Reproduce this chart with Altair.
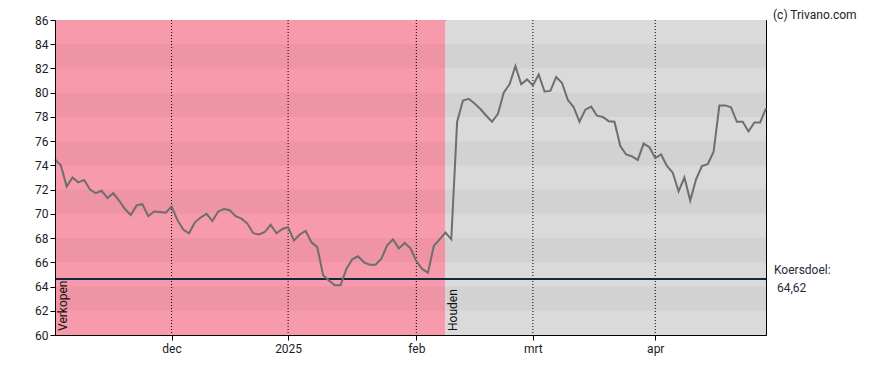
import altair as alt
import pandas as pd

# Closing prices per trading day (index 0 = first day shown)
prices = [
    74.5, 74.0, 72.25, 73.0, 72.6, 72.8, 72.0, 71.7, 71.9, 71.3,
    71.7, 71.1, 70.4, 69.9, 70.7, 70.8, 69.8, 70.2, 70.15, 70.1,
    70.6, 69.5, 68.7, 68.4, 69.3, 69.7, 70.0, 69.4, 70.2, 70.4,
    70.3, 69.8, 69.6, 69.2, 68.4, 68.3, 68.5, 69.1, 68.4, 68.75,
    68.9, 67.8, 68.3, 68.6, 67.65, 67.25, 64.95, 64.5, 64.1, 64.1,
    65.45, 66.25, 66.5, 66.0, 65.8, 65.8, 66.3, 67.4, 67.9, 67.15,
    67.6, 67.15, 66.1, 65.45, 65.15, 67.35, 67.9, 68.45, 67.9, 77.6,
    79.35, 79.5, 79.1, 78.65, 78.1, 77.6, 78.25, 80.0, 80.7, 82.2,
    80.7, 81.1, 80.6, 81.5, 80.1, 80.15, 81.3, 80.8, 79.4, 78.8,
    77.6, 78.6, 78.85, 78.1, 78.0, 77.65, 77.6, 75.6, 74.9, 74.75,
    74.45, 75.8, 75.5, 74.6, 74.9, 73.95, 73.4, 71.85, 73.0, 71.1,
    72.85, 73.95, 74.1, 75.1, 78.95, 78.95, 78.8, 77.6, 77.6, 76.8,
    77.55, 77.55, 78.7,
]

# Month ticks (trading-day index of first trading day) and labels
month_idx = [20, 40, 62, 82, 103]
month_labels = ["dec", "2025", "feb", "mrt", "apr"]

# Advice periods
advice_labels = ["Verkopen", "Houden"]
advice_start = [0, 67]
advice_end = [67, 122]
advice_colors = ["#f79aab", "#dadada"]

target = 64.62
target_text = "64,62"

y_ticks = list(range(60, 87, 2))
dark_band_lo = [62, 66, 70, 74, 78, 82]

W, H = 711, 315
X_DOMAIN = [0, len(prices) - 1]
Y_DOMAIN = [60, 86]

df_price = pd.DataFrame({"i": list(range(len(prices))), "price": prices})
df_adv = pd.DataFrame({"label": advice_labels, "start": advice_start,
                       "end": advice_end, "base": [60] * len(advice_labels)})
df_band = pd.DataFrame({"lo": dark_band_lo, "hi": [v + 2 for v in dark_band_lo]})
df_month = pd.DataFrame({"i": month_idx, "label": month_labels})

idx_str = "[" + ",".join(str(v) for v in month_idx) + "]"
lab_str = "[" + ",".join("'" + s + "'" for s in month_labels) + "]"
label_expr = f"{lab_str}[indexof({idx_str}, datum.value)]"

xscale = alt.Scale(domain=X_DOMAIN, nice=False, zero=False)
yscale = alt.Scale(domain=Y_DOMAIN, nice=False, zero=False)
xaxis = alt.Axis(values=month_idx, labelExpr=label_expr, title=None, grid=False,
                 tickSize=5, labelPadding=3, zindex=2)
yaxis = alt.Axis(values=y_ticks, title=None, grid=False, tickSize=5,
                 labelPadding=2, zindex=2)

regions = alt.Chart(df_adv).mark_rect().encode(
    x=alt.X("start:Q", scale=xscale, axis=xaxis),
    x2="end:Q",
    y=alt.value(0),
    y2=alt.value(H),
    color=alt.Color("label:N", scale=alt.Scale(domain=advice_labels, range=advice_colors),
                    legend=None),
)

bands = alt.Chart(df_band).mark_rect(color="black", opacity=0.036).encode(
    x=alt.value(0), x2=alt.value(W),
    y=alt.Y("lo:Q", scale=yscale, axis=yaxis), y2="hi:Q",
)

vlines = alt.Chart(df_month).mark_rule(color="black", strokeDash=[1, 2], strokeWidth=1).encode(
    x=alt.X("i:Q", scale=xscale, axis=xaxis),
    y=alt.value(0), y2=alt.value(H),
)

target_rule = alt.Chart(pd.DataFrame({"t": [target]})).mark_rule(
    color="#0f2a44", strokeWidth=2).encode(
    y=alt.Y("t:Q", scale=yscale, axis=yaxis),
)

line = alt.Chart(df_price).mark_line(color="#6e6e6e", strokeWidth=2).encode(
    x=alt.X("i:Q", scale=xscale, axis=xaxis),
    y=alt.Y("price:Q", scale=yscale, axis=yaxis),
)

adv_text = alt.Chart(df_adv).mark_text(
    angle=270, align="left", baseline="top", dx=4, dy=3,
    font="Roboto", fontSize=12, color="#111").encode(
    x=alt.X("start:Q", scale=xscale, axis=xaxis),
    y=alt.Y("base:Q", scale=yscale, axis=yaxis),
    text="label:N",
)

tdf = pd.DataFrame({"t": [target], "a": ["Koersdoel:"], "b": [target_text]})
kd1 = alt.Chart(tdf).mark_text(align="left", baseline="middle", dy=-9, font="Roboto",
                               fontSize=12, color="#1e2a3a").encode(
    x=alt.value(W + 8), y=alt.Y("t:Q", scale=yscale, axis=yaxis), text="a:N")
kd2 = alt.Chart(tdf).mark_text(align="left", baseline="middle", dy=9, dx=3, font="Roboto",
                               fontSize=12, color="#1e2a3a").encode(
    x=alt.value(W + 8), y=alt.Y("t:Q", scale=yscale, axis=yaxis), text="b:N")

credit = alt.Chart(pd.DataFrame({"c": ["(c) Trivano.com"]})).mark_text(
    align="left", baseline="top", font="Roboto", fontSize=12, color="#222").encode(
    x=alt.value(W + 7), y=alt.value(-10), text="c:N")

chart = alt.layer(regions, bands, vlines, target_rule, line, adv_text, kd1, kd2, credit).properties(
    width=W, height=H,
    autosize=alt.AutoSizeParams(type="none"),
    padding={"left": 47, "top": 12, "right": 112, "bottom": 35},
).configure_view(
    stroke="black", strokeWidth=1
).configure_axis(
    domainColor="black", tickColor="black", labelColor="#1a1a2a",
    labelFont="Roboto", labelFontSize=12, domainWidth=1,
)

chart.save("out.html", embed_options={"renderer": "svg", "actions": False})
